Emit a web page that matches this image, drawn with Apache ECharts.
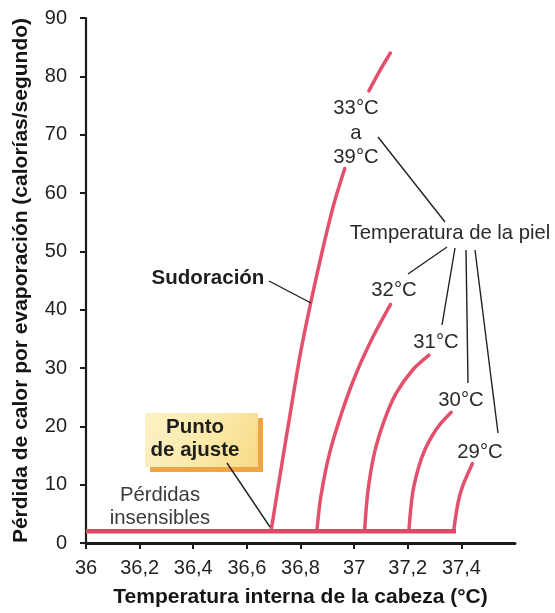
<!DOCTYPE html>
<html>
<head>
<meta charset="utf-8">
<script src="https://cdn.jsdelivr.net/npm/echarts@6/dist/echarts.min.js"></script>
<style>
  html, body { margin: 0; padding: 0; background: #ffffff; }
  #chart { width: 555px; height: 613px; }
</style>
</head>
<body>
<div id="chart"></div>
<script>
// Head temperature (°C) tick positions on the x axis
const xTicks = [36, 36.2, 36.4, 36.6, 36.8, 37, 37.2, 37.4];

// Insensible losses: flat evaporative loss below the set point
const insensibleLoss = [[36, 2], [37.38, 2]];

// Sweating curves, evaporative heat loss vs. head temperature, one per skin temperature
const sweatSkin33to39Low = [[36.69, 2], [36.725, 12], [36.762, 22.3], [36.80, 32.6], [36.84, 41.6], [36.883, 50.4], [36.925, 58.2], [36.965, 64.2]];
const sweatSkin33to39High = [[37.055, 77.5], [37.095, 80.9], [37.135, 84.0]];
const sweatSkin32 = [[36.861, 2], [36.876, 8], [36.909, 15.5], [36.958, 22.9], [37.008, 29.1], [37.07, 35.3], [37.136, 40.9]];
const sweatSkin31 = [[37.039, 2], [37.051, 8.7], [37.076, 15.5], [37.114, 21.2], [37.157, 25.7], [37.219, 29.7], [37.279, 32.2]];
const sweatSkin30 = [[37.204, 2], [37.218, 8.5], [37.240, 12.9], [37.263, 15.9], [37.29, 18.3], [37.318, 20.2], [37.362, 22.4]];
const sweatSkin29 = [[37.371, 2], [37.388, 7], [37.405, 9.8], [37.441, 13.6]];

const FONT = '"Liberation Sans", Arial, Helvetica, sans-serif';
const RED = '#e3506c';
const INK = '#2b2b2b';

function commaDecimal(v) {
  return String(Math.round(v * 10) / 10).replace('.', ',');
}

function curve(data) {
  return {
    type: 'line',
    data: data,
    smooth: 0.3,
    showSymbol: false,
    silent: true,
    lineStyle: { color: RED, width: 3.5, cap: 'round' },
    z: 3
  };
}

function label(text, x, y, opts) {
  return {
    type: 'text',
    z: 50,
    style: Object.assign({
      text: text, x: x, y: y,
      fill: INK,
      fontFamily: FONT, fontSize: 20.3, fontWeight: 'normal',
      align: 'center', verticalAlign: 'middle'
    }, opts || {})
  };
}

function leader(x1, y1, x2, y2) {
  return {
    type: 'line',
    z: 40,
    shape: { x1: x1, y1: y1, x2: x2, y2: y2 },
    style: { stroke: '#222222', lineWidth: 1.4 }
  };
}

const chart = echarts.init(document.getElementById('chart'), null, { renderer: 'canvas' });

chart.setOption({
  animation: false,
  backgroundColor: '#ffffff',
  grid: { left: 86, right: 40, top: 18, bottom: 65, containLabel: false },
  xAxis: {
    type: 'value',
    min: 36,
    max: 37.6,
    interval: 0.2,
    name: 'Temperatura interna de la cabeza (°C)',
    nameLocation: 'middle',
    nameGap: 44,
    nameTextStyle: { fontFamily: FONT, fontSize: 21, fontWeight: 'bold', color: '#151515' },
    axisLine: { show: true, lineStyle: { color: '#1a1a1a', width: 3 } },
    axisTick: { show: true, length: 6, customValues: xTicks, lineStyle: { color: '#1a1a1a', width: 2 } },
    axisLabel: {
      customValues: xTicks,
      margin: 15,
      fontFamily: FONT, fontSize: 20, color: '#222222',
      formatter: commaDecimal
    },
    splitLine: { show: false }
  },
  yAxis: {
    type: 'value',
    min: 0,
    max: 90,
    interval: 10,
    name: 'Pérdida de calor por evaporación (calorías/segundo)',
    nameLocation: 'middle',
    nameGap: 54,
    nameTextStyle: { fontFamily: FONT, fontSize: 21, fontWeight: 'bold', color: '#151515' },
    axisLine: { show: true, lineStyle: { color: '#1a1a1a', width: 2.2 } },
    axisTick: { show: true, length: 6, lineStyle: { color: '#1a1a1a', width: 2 } },
    axisLabel: {
      margin: 19,
      fontFamily: FONT, fontSize: 20, color: '#222222',
      formatter: v => String(v)
    },
    splitLine: { show: false }
  },
  series: [
    curve(sweatSkin33to39Low),
    curve(sweatSkin33to39High),
    curve(sweatSkin32),
    curve(sweatSkin31),
    curve(sweatSkin30),
    curve(sweatSkin29),
    {
      type: 'line',
      data: insensibleLoss,
      showSymbol: false,
      silent: true,
      lineStyle: { color: '#dc4a68', width: 4.5 },
      z: 4
    }
  ],
  graphic: [
    // skin temperature labels
    label('33°C', 356, 108),
    label('a', 356, 133),
    label('39°C', 356, 157),
    label('Temperatura de la piel', 450, 233),
    label('32°C', 394, 290),
    label('31°C', 436, 342),
    label('30°C', 461, 400),
    label('29°C', 480, 452),
    leader(378, 137, 445, 222),
    leader(447, 247, 408, 274),
    leader(455, 248, 442, 325),
    leader(466, 250, 468, 383),
    leader(475, 250, 498, 433),

    // sweating
    label('Sudoración', 208, 278, { fontWeight: 'bold', fill: '#1e1e1e', fontSize: 20.5 }),
    leader(269, 281, 311, 303),

    // set point box
    { type: 'rect', z: 30, shape: { x: 150, y: 418, width: 113, height: 54 }, style: { fill: '#f0a443' } },
    {
      type: 'rect', z: 31, shape: { x: 145, y: 413, width: 113, height: 54 },
      style: {
        fill: new echarts.graphic.LinearGradient(0, 0, 1, 1, [
          { offset: 0, color: '#fdf2c6' },
          { offset: 0.6, color: '#fbe8a6' },
          { offset: 1, color: '#f6d985' }
        ])
      }
    },
    label('Punto', 195, 427, { fontWeight: 'bold', fill: '#1e1e1e', fontSize: 20.5 }),
    label('de ajuste', 195, 450, { fontWeight: 'bold', fill: '#1e1e1e', fontSize: 20.5 }),
    leader(227, 463, 270, 527),

    // insensible losses
    label('Pérdidas', 160, 495, { fill: '#3a3a3a' }),
    label('insensibles', 160, 518, { fill: '#3a3a3a' })
  ]
});
</script>
</body>
</html>
